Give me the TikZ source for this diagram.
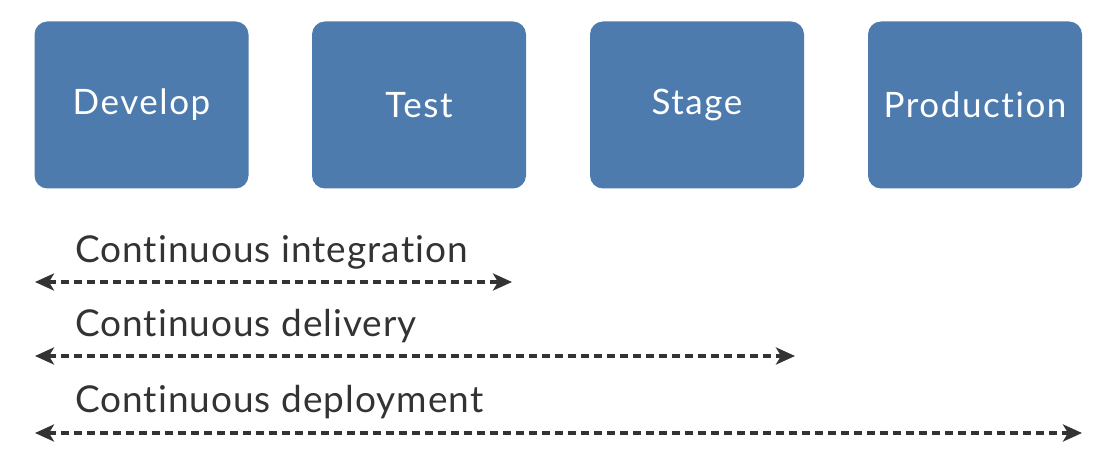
\documentclass[tikz,border=0pt]{standalone}
\usepackage{fontspec}
\setmainfont{Lato}
\newfontfamily\boxfont[LetterSpace=4.5,RawFeature={-liga;-clig;-calt;-rlig;-dlig}]{Lato}
\newfontfamily\spanfont[LetterSpace=2.7,RawFeature={-liga;-clig;-calt;-rlig;-dlig}]{Lato}
\usetikzlibrary{arrows.meta}
\definecolor{stagecol}{HTML}{4D7BAE}
\definecolor{textcol}{HTML}{333333}
\tikzset{
  stagebox/.style={fill=stagecol, rounded corners=13pt, minimum width=214pt,
    minimum height=167pt, text=white, font=\boxfont\fontsize{35}{42}\selectfont},
  spanlabel/.style={anchor=base west, text=textcol, inner sep=0pt,
    font=\spanfont\fontsize{37}{44}\selectfont},
  spanline/.style={{Stealth[length=19pt,width=17pt,inset=5pt]}-{Stealth[length=19pt,width=17pt,inset=5pt]},
    line width=3.8pt, dash pattern=on 8pt off 5pt, color=textcol}
}
\begin{document}
\begin{tikzpicture}[x=1pt,y=-1pt]
  \useasboundingbox (0,0) rectangle (1120,462);
  %Stages
  \node[stagebox] (Develop) at (141.5,105) {Develop};
  \node[stagebox] (Test) at (419,105) {Test};
  \node[stagebox] (Stage) at (697,105) {Stage};
  \node[stagebox] (Production) at (975,105) {Production};

  %Spans
  \coordinate (CIstart) at (35,282);
  \coordinate (CIend) at (512,282);
  \coordinate (CDstart) at (35,356);
  \coordinate (CDend) at (795,356);
  \coordinate (CPstart) at (35,433);
  \coordinate (CPend) at (1082,433);

  \node[spanlabel] (CIlabel) at (75,263) {Continuous integration};
  \node[spanlabel] (CDlabel) at (75,337) {Continuous delivery};
  \node[spanlabel] (CPlabel) at (75,413) {Continuous deployment};

  \draw[spanline] (CIstart) -- (CIend);
  \draw[spanline] (CDstart) -- (CDend);
  \draw[spanline] (CPstart) -- (CPend);
\end{tikzpicture}
\end{document}
